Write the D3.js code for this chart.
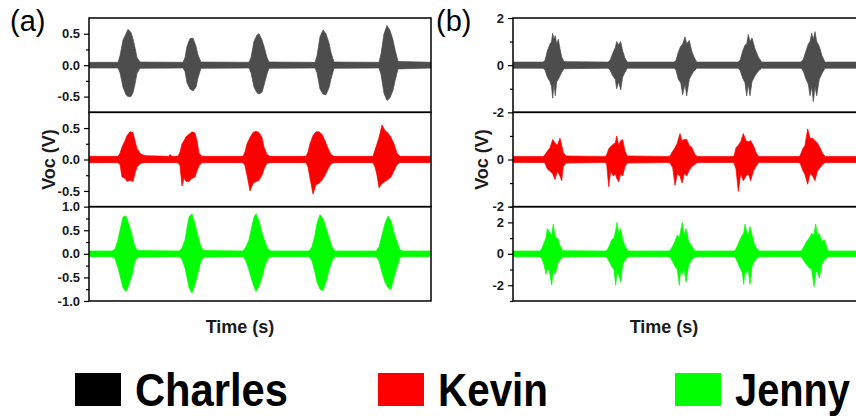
<!DOCTYPE html>
<html>
<head>
<meta charset="utf-8">
<script src="https://cdn.jsdelivr.net/npm/d3@7"></script>
<style>
  html, body { margin: 0; padding: 0; background: #fff; }
  svg { display: block; font-family: "Liberation Sans", Arial, sans-serif; }
</style>
</head>
<body>
<svg id="chart" width="856" height="416"></svg>
<script>
// Voice signal envelopes: [time, upper, lower] in volts.
// time unit is arbitrary (the figure has no time ticks)
const charlesA = [
  [0, 0.045, -0.045],
  [29, 0.045, -0.045], [31, 0.15, -0.12], [34, 0.4, -0.35], [37, 0.5, -0.47], [39, 0.57, -0.5],
  [42, 0.52, -0.5], [44, 0.42, -0.44], [46, 0.28, -0.3], [48, 0.12, -0.13], [51, 0.05, -0.05],
  [94, 0.045, -0.045], [96, 0.12, -0.1], [98, 0.3, -0.28], [101, 0.42, -0.38], [104, 0.43, -0.41],
  [107, 0.3, -0.35], [109, 0.16, -0.2], [112, 0.05, -0.05],
  [160, 0.045, -0.045], [162, 0.12, -0.12], [165, 0.38, -0.35], [168, 0.48, -0.44], [170, 0.5, -0.46],
  [173, 0.4, -0.43], [175, 0.3, -0.32], [178, 0.12, -0.14], [180, 0.05, -0.05],
  [226, 0.045, -0.045], [228, 0.15, -0.12], [231, 0.45, -0.38], [234, 0.56, -0.46], [237, 0.5, -0.47],
  [240, 0.35, -0.36], [242, 0.2, -0.22], [245, 0.05, -0.05],
  [290, 0.045, -0.045], [292, 0.18, -0.15], [295, 0.5, -0.45], [298, 0.63, -0.56], [301, 0.55, -0.52],
  [304, 0.4, -0.4], [306, 0.25, -0.25], [309, 0.06, -0.06],
  [345, 0.045, -0.045]
];
const kevinA = [
  [0, 0.05, -0.05],
  [29, 0.05, -0.05], [31, 0.1, -0.08], [33, 0.2, -0.28], [36, 0.3, -0.3], [38, 0.38, -0.35],
  [41, 0.44, -0.33], [44, 0.43, -0.35], [46, 0.3, -0.22], [48, 0.18, -0.12], [51, 0.1, -0.07],
  [54, 0.07, -0.05], [58, 0.06, -0.05], [80, 0.05, -0.05], [81, 0.08, -0.05], [83, 0.05, -0.05],
  [89, 0.05, -0.05], [91, 0.12, -0.1], [93, 0.25, -0.42], [95, 0.3, -0.3], [97, 0.36, -0.35],
  [100, 0.4, -0.35], [103, 0.44, -0.3], [106, 0.42, -0.28], [108, 0.3, -0.18], [110, 0.1, -0.1], [113, 0.05, -0.05],
  [154, 0.05, -0.05], [156, 0.12, -0.1], [158, 0.25, -0.25], [161, 0.35, -0.5], [164, 0.43, -0.38],
  [167, 0.45, -0.35], [170, 0.43, -0.33], [173, 0.35, -0.25], [175, 0.2, -0.15], [178, 0.08, -0.06], [181, 0.05, -0.05],
  [217, 0.05, -0.05], [219, 0.12, -0.12], [221, 0.25, -0.3], [224, 0.38, -0.55], [227, 0.44, -0.4],
  [230, 0.44, -0.38], [233, 0.4, -0.33], [236, 0.3, -0.25], [239, 0.18, -0.15], [242, 0.08, -0.07], [245, 0.05, -0.05],
  [284, 0.05, -0.05], [286, 0.15, -0.12], [288, 0.25, -0.25], [290, 0.35, -0.45], [293, 0.55, -0.38],
  [296, 0.46, -0.35], [299, 0.42, -0.32], [302, 0.35, -0.28], [305, 0.25, -0.18], [308, 0.1, -0.08], [311, 0.05, -0.05],
  [345, 0.05, -0.05]
];
const jennyA = [
  [0, 0.06, -0.06],
  [23, 0.06, -0.06], [26, 0.1, -0.1], [29, 0.3, -0.3], [32, 0.6, -0.55], [34, 0.78, -0.72],
  [37, 0.8, -0.8], [40, 0.62, -0.65], [43, 0.4, -0.45], [46, 0.14, -0.15], [49, 0.07, -0.07],
  [90, 0.06, -0.06], [93, 0.12, -0.12], [96, 0.3, -0.3], [98, 0.55, -0.5], [100, 0.78, -0.72],
  [103, 0.85, -0.83], [106, 0.62, -0.65], [109, 0.38, -0.4], [112, 0.14, -0.15], [115, 0.07, -0.07],
  [154, 0.06, -0.06], [157, 0.15, -0.15], [160, 0.3, -0.35], [162, 0.5, -0.5], [165, 0.78, -0.7],
  [167, 0.85, -0.8], [170, 0.7, -0.68], [173, 0.45, -0.5], [176, 0.25, -0.25], [179, 0.1, -0.1], [182, 0.06, -0.06],
  [220, 0.06, -0.06], [223, 0.15, -0.15], [226, 0.4, -0.4], [228, 0.65, -0.6], [231, 0.83, -0.75],
  [234, 0.75, -0.78], [237, 0.55, -0.6], [240, 0.35, -0.35], [243, 0.15, -0.15], [246, 0.06, -0.06],
  [287, 0.06, -0.06], [290, 0.15, -0.15], [293, 0.4, -0.4], [296, 0.65, -0.6], [299, 0.8, -0.72],
  [302, 0.7, -0.75], [305, 0.45, -0.5], [308, 0.25, -0.28], [311, 0.08, -0.08], [314, 0.06, -0.06],
  [345, 0.06, -0.06]
];
const charlesB = [
  [0, 0.13, -0.13],
  [30, 0.13, -0.13], [32, 0.2, -0.2], [34.3, 0.6, -0.5], [37, 0.9, -0.7], [38.5, 1.0, -0.9], [39.7, 1.35, -1.4],
  [41, 1.1, -0.8], [42.3, 1.25, -1.3], [43.7, 0.9, -0.7], [45.3, 1.1, -0.6], [47, 0.7, -0.45], [48.7, 0.35, -0.3], [51, 0.15, -0.15],
  [95, 0.13, -0.13], [97, 0.2, -0.2], [99.7, 0.5, -0.45], [102.3, 0.75, -0.6], [103.7, 1.0, -1.0], [105.7, 0.85, -0.7],
  [107.7, 1.0, -1.05], [109.7, 0.6, -0.5], [112, 0.3, -0.3], [114.3, 0.13, -0.13],
  [161, 0.13, -0.13], [163, 0.2, -0.2], [165.3, 0.55, -0.6], [167.7, 0.8, -0.75], [169.7, 0.9, -1.25], [172, 1.2, -0.8],
  [173.7, 0.9, -1.3], [176.3, 1.05, -0.6], [178.7, 0.6, -0.4], [181, 0.35, -0.25], [183.7, 0.13, -0.13],
  [225, 0.13, -0.13], [227, 0.2, -0.2], [229.7, 0.6, -0.55], [232, 0.85, -0.75], [233.7, 0.9, -1.3], [235.3, 1.3, -0.8],
  [237, 1.0, -1.3], [239, 1.15, -0.7], [242, 0.7, -0.45], [245.3, 0.35, -0.25], [248.7, 0.13, -0.13],
  [288, 0.13, -0.13], [290.3, 0.25, -0.25], [293, 0.6, -0.6], [295.3, 0.9, -0.8], [297, 1.0, -1.3], [298.7, 1.35, -0.9],
  [300.3, 1.1, -1.55], [302, 1.42, -0.9], [303.7, 1.0, -1.3], [306.3, 0.8, -0.6], [309, 0.4, -0.35], [312, 0.13, -0.13],
  [345, 0.13, -0.13]
];
const kevinB = [
  [0, 0.13, -0.13],
  [30, 0.13, -0.13], [32, 0.2, -0.15], [34.3, 0.35, -0.4], [37, 0.5, -0.5], [39.7, 0.85, -0.6], [42, 0.7, -0.85],
  [44.3, 0.6, -0.5], [47, 0.9, -0.7], [48.7, 0.6, -0.9], [50.3, 0.3, -0.3], [53, 0.15, -0.15],
  [92, 0.13, -0.13], [93.7, 0.2, -0.2], [95.7, 0.45, -1.15], [97.7, 0.55, -0.5], [100.3, 0.65, -0.7], [102.3, 0.7, -0.6],
  [103.7, 1.0, -0.8], [105.7, 0.6, -0.95], [107.7, 0.8, -0.6], [109.7, 0.85, -0.7], [112, 0.35, -0.3], [114.3, 0.15, -0.15],
  [155, 0.13, -0.13], [157, 0.15, -0.15], [159.7, 0.35, -0.35], [162, 0.5, -1.1], [164.3, 0.7, -0.6], [167, 1.1, -0.7],
  [169, 0.8, -1.0], [171.3, 0.85, -0.6], [173.7, 0.85, -0.7], [176.3, 0.6, -0.45], [179, 0.5, -0.3], [182, 0.2, -0.2], [184.7, 0.13, -0.13],
  [219, 0.13, -0.13], [221, 0.15, -0.15], [223, 0.5, -0.4], [225.3, 0.6, -1.35], [227.7, 0.75, -0.6], [230.3, 1.1, -0.9],
  [233, 0.8, -0.7], [235.3, 0.75, -0.6], [237.7, 0.8, -0.9], [240.3, 0.6, -0.5], [243, 0.3, -0.3], [245.7, 0.13, -0.13],
  [285, 0.13, -0.13], [287, 0.15, -0.15], [289.7, 0.45, -0.45], [292, 0.6, -0.65], [294.7, 1.3, -1.05], [297, 0.9, -0.6],
  [299.7, 0.9, -0.7], [302, 0.8, -0.9], [304.3, 0.7, -0.5], [307, 0.5, -0.35], [309.7, 0.25, -0.2], [312.3, 0.13, -0.13],
  [345, 0.13, -0.13]
];
const jennyB = [
  [0, 0.18, -0.18],
  [26.5, 0.18, -0.18], [28.7, 0.3, -0.3], [31, 0.7, -0.7], [33, 1.0, -1.3], [34.3, 1.6, -0.9], [36.3, 1.4, -1.1],
  [38.7, 1.2, -1.98], [40.3, 1.88, -1.0], [42.3, 1.0, -1.3], [44.7, 1.0, -0.6], [47, 0.5, -0.4], [49.7, 0.2, -0.2],
  [91.5, 0.18, -0.18], [93.7, 0.2, -0.2], [96.3, 0.5, -0.5], [98.7, 0.9, -0.8], [101, 1.0, -1.0], [102.7, 1.5, -2.0],
  [104, 2.0, -1.2], [105.7, 1.3, -1.3], [107.7, 1.6, -1.8], [109.7, 0.9, -0.7], [112, 0.5, -0.4], [115.3, 0.18, -0.18],
  [155, 0.18, -0.18], [157, 0.2, -0.2], [159.7, 0.5, -0.5], [162, 0.8, -0.8], [164.3, 1.2, -1.0], [166.3, 1.0, -2.0],
  [167.7, 1.5, -1.0], [169.3, 2.0, -1.3], [171, 1.2, -0.9], [173, 1.6, -1.8], [175.7, 0.8, -0.7], [178.7, 0.5, -0.4], [182, 0.18, -0.18],
  [220, 0.18, -0.18], [222, 0.2, -0.2], [224.3, 0.5, -0.5], [227, 0.9, -0.9], [229.3, 1.2, -1.2], [230.7, 1.3, -1.94],
  [232, 1.88, -1.1], [233.7, 1.4, -1.2], [235.3, 1.2, -1.0], [237, 1.73, -1.94], [239, 1.2, -0.8], [242, 0.5, -0.4], [246.3, 0.18, -0.18],
  [286.5, 0.18, -0.18], [288.7, 0.2, -0.2], [291.3, 0.5, -0.5], [293.7, 0.8, -0.7], [296.3, 1.0, -0.9], [298.7, 1.3, -1.0],
  [301, 1.2, -2.09], [302.7, 1.9, -1.2], [304.3, 1.2, -1.1], [306.3, 1.3, -1.56], [308.7, 0.8, -0.7], [311.3, 0.9, -0.4], [315.3, 0.18, -0.18],
  [345, 0.18, -0.18]
];

const speakers = ['Charles', 'Kevin', 'Jenny'];
const traceColors = ['#4d4d4d', '#ff0000', '#00ff00'];
const legendColors = ['#000000', '#ff0000', '#00ff00'];

const timeDomA = [0, 342];
const timeDomB = [0, 345];
const yDomA = [[-0.75, 0.75], [-0.75, 0.75], [-1, 1]];
const yDomB = [[-2, 2], [-2, 2], [-3, 3]];
const majorA = [[-0.5, 0, 0.5], [-0.5, 0, 0.5], [-1, -0.5, 0, 0.5, 1]];
const minorA = [[-0.25, 0.25], [-0.25, 0.25], [-0.75, -0.25, 0.25, 0.75]];
const majorB = [[-2, 0, 2], [-2, 0], [-2, 0, 2]];
const minorB = [[-1, 1], [-1, 1], [-3, -1, 1, 3]];

const svg = d3.select('#chart');
const top0 = 18, rowH = 94.33;

const panels = [
  { tag: '(a)', left: 89, width: 342, tdom: timeDomA, series: [charlesA, kevinA, jennyA],
    ydom: yDomA, major: majorA, minor: minorA, fmt: d => d.toFixed(1), tagX: 10, ylabX: 55 },
  { tag: '(b)', left: 513, width: 345, tdom: timeDomB, series: [charlesB, kevinB, jennyB],
    ydom: yDomB, major: majorB, minor: minorB, fmt: d => String(d), tagX: 436, ylabX: 488 }
];

panels.forEach((p, pi) => {
  const x = d3.scaleLinear().domain(p.tdom).range([p.left, p.left + p.width]);

  p.series.forEach((data, i) => {
    const y0 = top0 + i * rowH;
    const y = d3.scaleLinear().domain(p.ydom[i]).range([y0 + rowH, y0]);
    const g = svg.append('g');

    // clip so the traces stay inside their box
    const clipId = 'clip' + pi + i;
    svg.append('clipPath').attr('id', clipId)
      .append('rect').attr('x', p.left).attr('y', y0).attr('width', p.width).attr('height', rowH);

    const area = d3.area()
      .x(d => x(d[0]))
      .y0(d => y(d[2]))
      .y1(d => y(d[1]));

    g.append('path')
      .datum(data)
      .attr('clip-path', `url(#${clipId})`)
      .attr('d', area)
      .attr('fill', traceColors[i])
      .attr('stroke', traceColors[i])
      .attr('stroke-width', 0.7);

    // minor ticks
    g.append('g')
      .attr('transform', `translate(${p.left},0)`)
      .call(d3.axisLeft(y).tickValues(p.minor[i]).tickSize(3).tickFormat(''))
      .call(a => a.select('.domain').remove())
      .selectAll('line').attr('stroke', '#000').attr('stroke-width', 1.2);

    // major ticks + labels
    const ax = g.append('g')
      .attr('transform', `translate(${p.left},0)`)
      .call(d3.axisLeft(y).tickValues(p.major[i]).tickSize(5).tickPadding(4).tickFormat(p.fmt));
    ax.select('.domain').remove();
    ax.selectAll('line').attr('stroke', '#000').attr('stroke-width', 1.2);
    ax.selectAll('text')
      .attr('font-family', '"Liberation Sans", Arial, sans-serif')
      .attr('font-size', 13).attr('font-weight', 'bold').attr('fill', '#1a1a1a');

    // frame
    g.append('rect')
      .attr('x', p.left).attr('y', y0)
      .attr('width', p.width).attr('height', rowH)
      .attr('fill', 'none').attr('stroke', '#000').attr('stroke-width', 1.5);
  });

  // panel tag
  svg.append('text')
    .attr('x', p.tagX).attr('y', 31)
    .attr('font-size', 29).attr('fill', '#000')
    .text(p.tag);

  // axis titles
  svg.append('text')
    .attr('transform', `translate(${p.ylabX},${top0 + 1.5 * rowH}) rotate(-90)`)
    .attr('text-anchor', 'middle')
    .attr('font-size', 18).attr('font-weight', 'bold').attr('fill', '#1a1a1a')
    .text('Voc (V)');

  svg.append('text')
    .attr('x', p.left + 151).attr('y', 333)
    .attr('text-anchor', 'middle')
    .attr('font-size', 18).attr('font-weight', 'bold').attr('fill', '#1a1a1a')
    .text('Time (s)');
});

// legend
const legX = [75, 378, 675];
const legTextW = [153, 110, 115];
speakers.forEach((name, i) => {
  svg.append('rect')
    .attr('x', legX[i]).attr('y', 373)
    .attr('width', 46).attr('height', 33)
    .attr('fill', legendColors[i]);
  svg.append('text')
    .attr('x', legX[i] + 60).attr('y', 406)
    .attr('font-size', 46).attr('font-weight', 'bold').attr('fill', '#000')
    .attr('textLength', legTextW[i]).attr('lengthAdjust', 'spacingAndGlyphs')
    .text(name);
});
</script>
</body>
</html>
